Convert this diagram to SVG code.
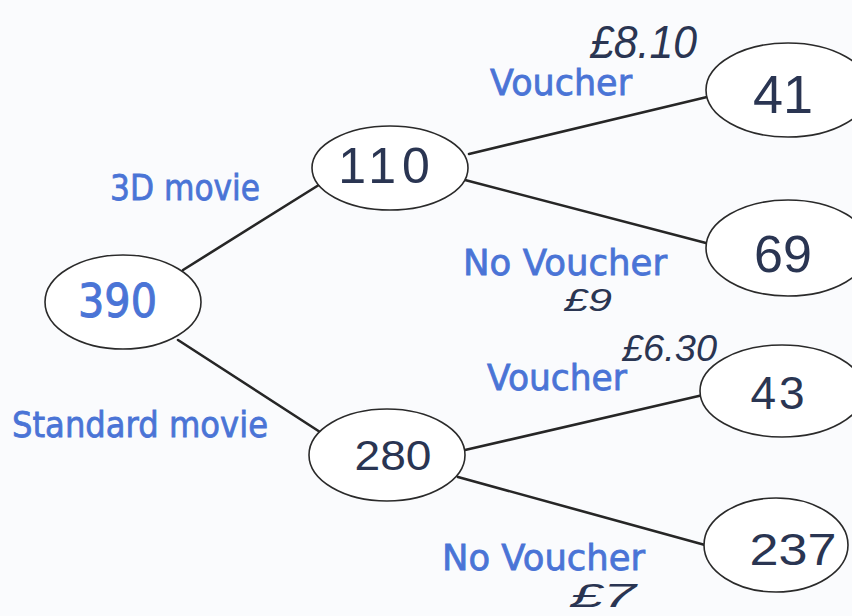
<svg xmlns="http://www.w3.org/2000/svg" width="852" height="616" viewBox="0 0 852 616">
<style>
.node{fill:#ffffff;stroke:#2a2a2a;stroke-width:1.6}
.edge{stroke:#262626;stroke-width:2.6;stroke-linecap:round;fill:none}
.lbl{font-family:"DejaVu Sans",sans-serif;fill:#4a74d6;stroke:#4a74d6;stroke-width:0.8;font-size:36px}
.num{font-family:"DejaVu Sans",sans-serif;fill:#4a74d6;stroke:#4a74d6;stroke-width:1;font-size:47px}
.hw{font-family:"Liberation Sans",sans-serif;fill:#2a3552;text-anchor:middle}
.price{font-family:"Liberation Sans",sans-serif;font-style:italic;fill:#2a3552}
</style>
<rect width="852" height="616" fill="#fafbfd"/>
<g id="connectors">
<line class="edge" x1="183" y1="270" x2="322" y2="183"/>
<line class="edge" x1="178" y1="340" x2="320" y2="432"/>
<line class="edge" x1="469" y1="154" x2="707" y2="97"/>
<line class="edge" x1="465" y1="180" x2="706" y2="243"/>
<line class="edge" x1="465" y1="450" x2="703" y2="395"/>
<line class="edge" x1="458" y1="477" x2="705" y2="545"/>
</g>
<g id="n390">
<ellipse class="node" cx="123" cy="302" rx="78" ry="47"/>
<text class="num" x="78" y="317" textLength="79" lengthAdjust="spacingAndGlyphs">390</text>
</g>
<g id="n110">
<ellipse class="node" cx="390" cy="168" rx="78" ry="42"/>
<text class="hw" x="387" y="183" font-size="50" letter-spacing="6">110</text>
</g>
<g id="n280">
<ellipse class="node" cx="387" cy="455" rx="78" ry="46"/>
<text class="hw" x="393" y="470" font-size="42" textLength="77" lengthAdjust="spacingAndGlyphs">280</text>
</g>
<g id="n41">
<ellipse class="node" cx="788" cy="90" rx="82" ry="47"/>
<text class="hw" x="783" y="113" font-size="54">41</text>
</g>
<g id="n69">
<ellipse class="node" cx="788" cy="248" rx="82" ry="48"/>
<text class="hw" x="783" y="272" font-size="52">69</text>
</g>
<g id="n43">
<ellipse class="node" cx="782" cy="391" rx="82" ry="46"/>
<text class="hw" x="779" y="409" font-size="46" letter-spacing="3">43</text>
</g>
<g id="n237">
<ellipse class="node" cx="776" cy="545" rx="72" ry="47"/>
<text class="hw" x="793" y="565" font-size="44" textLength="87" lengthAdjust="spacingAndGlyphs">237</text>
</g>
<g id="labels">
<text class="lbl" x="110" y="200" textLength="150" lengthAdjust="spacingAndGlyphs">3D movie</text>
<text class="lbl" x="12" y="437" textLength="256" lengthAdjust="spacingAndGlyphs">Standard movie</text>
<text class="lbl" x="490" y="95" textLength="142" lengthAdjust="spacingAndGlyphs">Voucher</text>
<text class="lbl" x="463" y="275" textLength="204" lengthAdjust="spacingAndGlyphs">No Voucher</text>
<text class="lbl" x="487" y="390" textLength="140" lengthAdjust="spacingAndGlyphs">Voucher</text>
<text class="lbl" x="442" y="570" textLength="203" lengthAdjust="spacingAndGlyphs">No Voucher</text>
<text class="price" x="590" y="58" textLength="107" lengthAdjust="spacingAndGlyphs" font-size="46">£8.10</text>
<text class="price" x="564" y="311" textLength="48" lengthAdjust="spacingAndGlyphs" font-size="32">£9</text>
<text class="price" x="622" y="361" textLength="95" lengthAdjust="spacingAndGlyphs" font-size="36">£6.30</text>
<text class="price" x="570" y="607" textLength="66" lengthAdjust="spacingAndGlyphs" font-size="34">£7</text>
</g>
</svg>
